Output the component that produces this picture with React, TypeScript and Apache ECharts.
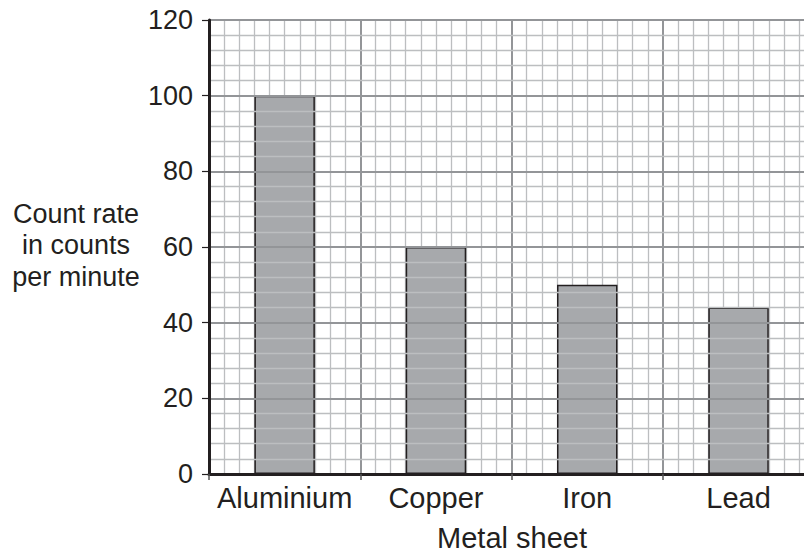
import React, { useEffect, useRef } from "react";
import * as echarts from "echarts";

const categories = ["Aluminium", "Copper", "Iron", "Lead"];
const countRates = [100, 60, 50, 44];
const yTicks = [0, 20, 40, 60, 80, 100, 120];
const yName = ["Count rate", "in counts", "per minute"];
const xName = "Metal sheet";

export default function App() {
  const ref = useRef<HTMLDivElement>(null);
  useEffect(() => {
    const chart = echarts.init(ref.current!, null, { renderer: "svg" });
    const ink = "#231f20";
    const font = "'Liberation Sans', Arial, Helvetica, sans-serif";
    chart.setOption({
      animation: false,
      backgroundColor: "#ffffff",
      grid: { left: 209, top: 20, width: 605.2, height: 454, containLabel: false },
      xAxis: [
        {
          type: "category",
          data: categories,
          boundaryGap: true,
          axisLine: { show: true, lineStyle: { color: ink, width: 3 } },
          axisTick: { show: true, length: 6, lineStyle: { color: "#555", width: 1.5 } },
          axisLabel: { color: ink, fontSize: 29, fontFamily: font, margin: 9, interval: 0 },
          splitLine: { show: false },
          z: 5,
        },
        {
          type: "value",
          min: 0,
          max: 40,
          interval: 10,
          show: true,
          axisLine: { show: false },
          axisTick: { show: false },
          axisLabel: { show: false },
          splitLine: { show: true, lineStyle: { color: "#939598", width: 2 } },
          minorTick: { show: false, splitNumber: 10 },
          minorSplitLine: { show: true, lineStyle: { color: "#bcbec0", width: 1.3 } },
        },
      ],
      yAxis: {
        type: "value",
        min: 0,
        max: 120,
        interval: 20,
        axisLine: { show: true, lineStyle: { color: ink, width: 3 } },
        axisTick: { show: true, length: 7, lineStyle: { color: ink, width: 1.2 } },
        axisLabel: {
          color: ink,
          fontSize: 27,
          fontFamily: font,
          margin: 16,
          formatter: (v: number) => (yTicks.includes(v) ? String(v) : ""),
        },
        splitLine: { show: true, lineStyle: { color: "#939598", width: 2 } },
        minorTick: { show: false, splitNumber: 5 },
        minorSplitLine: { show: true, lineStyle: { color: "#bcbec0", width: 1.3 } },
        z: 5,
      },
      series: [
        {
          type: "bar",
          xAxisIndex: 0,
          data: countRates,
          barWidth: 60.5,
          itemStyle: { color: "#a7a9ac", borderColor: ink, borderWidth: 1.5 },
          z: 3,
        },
      ],
      graphic: [
        {
          type: "text",
          x: 76,
          y: 245,
          style: {
            text: yName.join("\n"),
            align: "center",
            verticalAlign: "middle",
            fontSize: 27,
            lineHeight: 31.5,
            fontFamily: font,
            fill: ink,
          },
        },
        {
          type: "text",
          x: 512,
          y: 538,
          style: {
            text: xName,
            align: "center",
            verticalAlign: "middle",
            fontSize: 29,
            fontFamily: font,
            fill: ink,
          },
        },
      ],
    });
    return () => chart.dispose();
  }, []);
  return (
    <div
      style={{
        position: "absolute",
        left: 0,
        top: 0,
        width: 804,
        height: 554,
        overflow: "hidden",
      }}
    >
      <div ref={ref} style={{ width: 830, height: 554 }} />
    </div>
  );
}
